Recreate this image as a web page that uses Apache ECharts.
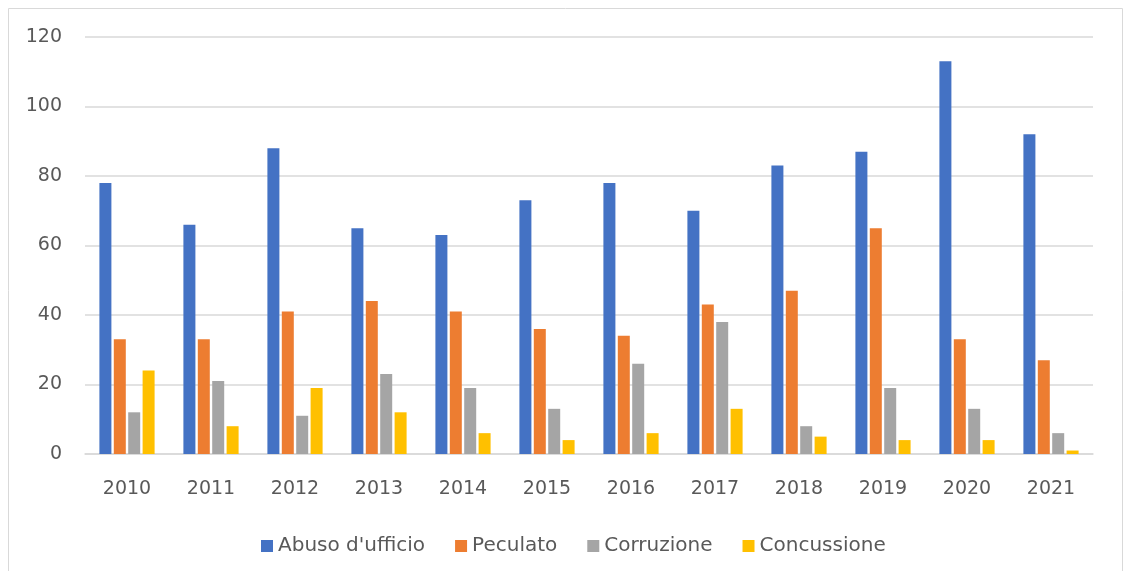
<!DOCTYPE html>
<html style="height: 100%">
<head>
<meta charset="utf-8">
<script src="https://cdn.jsdelivr.net/npm/echarts@6/dist/echarts.min.js"></script>
<title>Reati contro la PA</title>
</head>
<body style="height: 100%; margin: 0; background: #fff">
<div id="container" style="width: 1124px; height: 571px"></div>
<script type="text/javascript">

let years = ['2010', '2011', '2012', '2013', '2014', '2015', '2016', '2017', '2018', '2019', '2020', '2021']
let abuso = [78, 66, 88, 65, 63, 73, 78, 70, 83, 87, 113, 92]
let peculato = [33, 33, 41, 44, 41, 36, 34, 43, 47, 65, 33, 27]
let corruzione = [12, 21, 11, 23, 19, 13, 26, 38, 8, 19, 13, 6]
let concussione = [24, 8, 19, 12, 6, 4, 6, 13, 5, 4, 4, 1]
let yTicks = [0, 20, 40, 60, 80, 100, 120]

// the source picture is stretched sideways, a wide face fits it better
let font = '"DejaVu Sans", sans-serif'
let textColor = '#595959'

function bar(name, values, color) {
    return {
        name: name,
        type: 'bar',
        data: values,
        barWidth: 12,
        barGap: '20%',
        itemStyle: { color: color }
    }
}

let chart = echarts.init(document.getElementById('container'))
chart.setOption({
    animation: false,
    textStyle: { fontFamily: font },
    graphic: [{
        type: 'rect',
        shape: { x: 8.5, y: 8.5, width: 1114, height: 600 },
        style: { fill: 'none', stroke: '#d9d9d9', lineWidth: 1 },
        silent: true
    }],
    grid: { left: 85, right: 31, top: 37, bottom: 117, containLabel: false },
    legend: {
        left: 256,
        top: 531,
        icon: 'rect',
        itemWidth: 12,
        itemHeight: 12,
        itemGap: 30,
        textStyle: { fontSize: 20, color: textColor, fontFamily: font, padding: [5, 0, 0, 0] },
        data: ['Abuso d\'ufficio', 'Peculato', 'Corruzione', 'Concussione']
    },
    xAxis: {
        type: 'category',
        data: years,
        axisLine: { lineStyle: { color: '#d9d9d9', width: 1.5 } },
        axisTick: { show: false },
        axisLabel: { fontSize: 19, color: textColor, margin: 26, fontFamily: font }
    },
    yAxis: {
        type: 'value',
        min: yTicks[0],
        max: yTicks[yTicks.length - 1],
        interval: 20,
        axisLine: { show: false },
        axisTick: { show: false },
        axisLabel: { fontSize: 19, color: textColor, margin: 23, fontFamily: font },
        splitLine: { lineStyle: { color: '#d9d9d9', width: 1.5 } }
    },
    series: [
        bar('Abuso d\'ufficio', abuso, '#4472c4'),
        bar('Peculato', peculato, '#ed7d31'),
        bar('Corruzione', corruzione, '#a5a5a5'),
        bar('Concussione', concussione, '#ffc000')
    ]
})
</script>
</body>
</html>
